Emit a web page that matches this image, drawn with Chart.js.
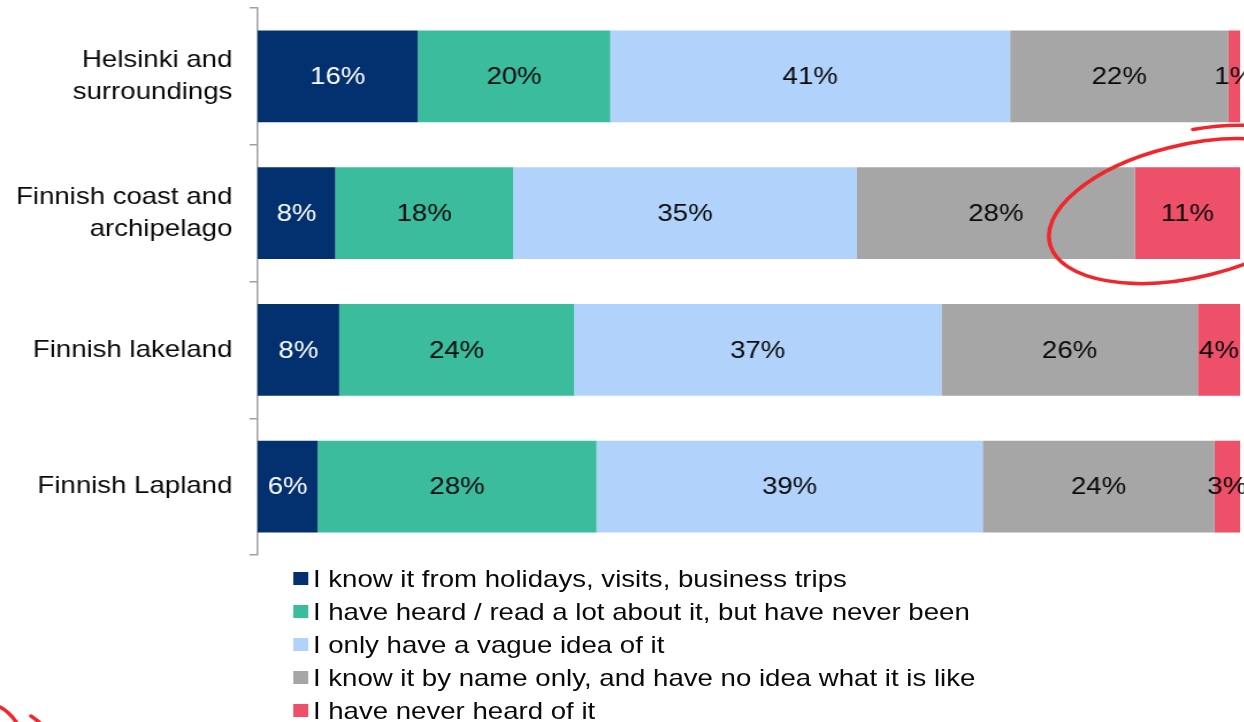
<!DOCTYPE html>
<html>
<head>
<meta charset="utf-8">
<script src="https://cdn.jsdelivr.net/npm/chart.js@4"></script>
<style>
  html, body { margin: 0; padding: 0; background: #fff; overflow: hidden; }
  #wrap {
    position: relative;
    width: 1082px;
    height: 722px;
    transform: scaleX(1.1503);
    transform-origin: 0 0;
    font-family: "Liberation Sans", Arial, sans-serif;
  }
  #legend {
    position: absolute;
    left: 255px;
    top: 562px;
    margin: 0;
    padding: 0;
    list-style: none;
  }
  #legend li {
    display: flex;
    align-items: center;
    height: 33px;
    font-size: 24px;
    color: #0a0a0a;
    white-space: nowrap;
  }
  #legend .box {
    display: inline-block;
    width: 13px;
    height: 13px;
    margin-right: 4px;
  }
</style>
</head>
<body>
<div id="wrap">
  <canvas id="chart" width="1082" height="722"></canvas>
  <ul id="legend"></ul>
</div>
<script>
// --- DATA ---
const categories = [
    ['Helsinki and', 'surroundings'],
    ['Finnish coast and', 'archipelago'],
    'Finnish lakeland',
    'Finnish Lapland'
];

const seriesNames = [
    'I know it from holidays, visits, business trips',
    'I have heard / read a lot about it, but have never been',
    'I only have a vague idea of it',
    'I know it by name only, and have no idea what it is like',
    'I have never heard of it'
];

// share of respondents (%), per category
const knowFromVisits = [16.3, 7.9, 8.3, 6.1];
const heardALot = [19.6, 18.1, 23.9, 28.4];
const vagueIdea = [40.7, 35.0, 37.4, 39.3];
const nameOnly = [22.2, 28.3, 26.1, 23.6];
const neverHeard = [1.2, 10.7, 4.3, 2.6];

const seriesColors = ['#03306f', '#3bbc9d', '#b1d3fb', '#a6a6a6', '#ee4f69'];
const labelColors = ['#ffffff', '#0a0a0a', '#0a0a0a', '#0a0a0a', '#0a0a0a'];

const seriesValues = [knowFromVisits, heardALot, vagueIdea, nameOnly, neverHeard];
const FONT = '"Liberation Sans", Arial, sans-serif';

// value labels centred in each segment
const segmentLabels = {
    id: 'segmentLabels',
    afterDatasetsDraw(chart) {
        const ctx = chart.ctx;
        ctx.save();
        ctx.font = '24px ' + FONT;
        ctx.textAlign = 'center';
        ctx.textBaseline = 'middle';
        chart.data.datasets.forEach((ds, i) => {
            chart.getDatasetMeta(i).data.forEach((bar, j) => {
                const cx = (bar.x + bar.base) / 2;
                ctx.fillStyle = labelColors[i];
                ctx.fillText(Math.round(ds.data[j]) + '%', cx, bar.y + 1);
            });
        });
        ctx.restore();
    }
};

// hand-drawn red circle round the "never heard" share of the coast bar
const redMarker = {
    id: 'redMarker',
    afterDraw(chart) {
        const bar = chart.getDatasetMeta(4).data[1];
        if (!bar) return;
        const ctx = chart.ctx;
        const cx = (bar.x + bar.base) / 2 + 2;
        const cy = bar.y - 2;
        ctx.save();
        ctx.strokeStyle = '#f0262b';
        ctx.lineWidth = 3.5;
        ctx.lineCap = 'round';
        ctx.beginPath();
        ctx.ellipse(cx, cy, 126, 66, -0.28, 0, Math.PI * 2);
        ctx.stroke();
        ctx.beginPath();
        ctx.ellipse(cx + 4, cy - 8, 128, 72, -0.28, -Math.PI / 2 + 0.15, -Math.PI / 2 + 0.9);
        ctx.stroke();
        // bit of another mark at the bottom-left corner
        ctx.beginPath();
        ctx.moveTo(0, 707);
        ctx.quadraticCurveTo(8, 712, 14, 722);
        ctx.moveTo(27, 716);
        ctx.lineTo(34, 722);
        ctx.stroke();
        ctx.restore();
    }
};

const chart = new Chart(document.getElementById('chart'), {
    type: 'bar',
    data: {
        labels: categories,
        datasets: seriesNames.map((name, i) => ({
            label: name,
            data: seriesValues[i],
            backgroundColor: seriesColors[i],
            borderWidth: 0,
            categoryPercentage: 1,
            barPercentage: 0.67
        }))
    },
    options: {
        indexAxis: 'y',
        responsive: false,
        animation: false,
        layout: { padding: { top: 8, bottom: 167, left: 0, right: 4 } },
        plugins: {
            legend: { display: false },
            tooltip: { enabled: false }
        },
        scales: {
            x: { stacked: true, min: 0, max: 100, display: false },
            y: {
                stacked: true,
                afterFit: (axis) => {
                    axis.width = 224;
                    axis.paddingTop = 0;
                    axis.paddingBottom = 0;
                },
                border: { display: true, color: '#a0a0a0', width: 1.5 },
                grid: {
                    drawOnChartArea: false,
                    drawTicks: true,
                    tickLength: 7,
                    color: '#a0a0a0',
                    lineWidth: 1.5
                },
                ticks: {
                    color: '#0a0a0a',
                    padding: 15,
                    font: { family: FONT, size: 24, lineHeight: 1.33 }
                }
            }
        }
    },
    plugins: [segmentLabels, redMarker]
});

// legend, one series per line
const legendList = document.getElementById('legend');
seriesNames.forEach((name, i) => {
    const li = document.createElement('li');
    li.innerHTML = `<span class="box" style="background:${seriesColors[i]}"></span>${name}`;
    legendList.appendChild(li);
});
</script>
</body>
</html>
